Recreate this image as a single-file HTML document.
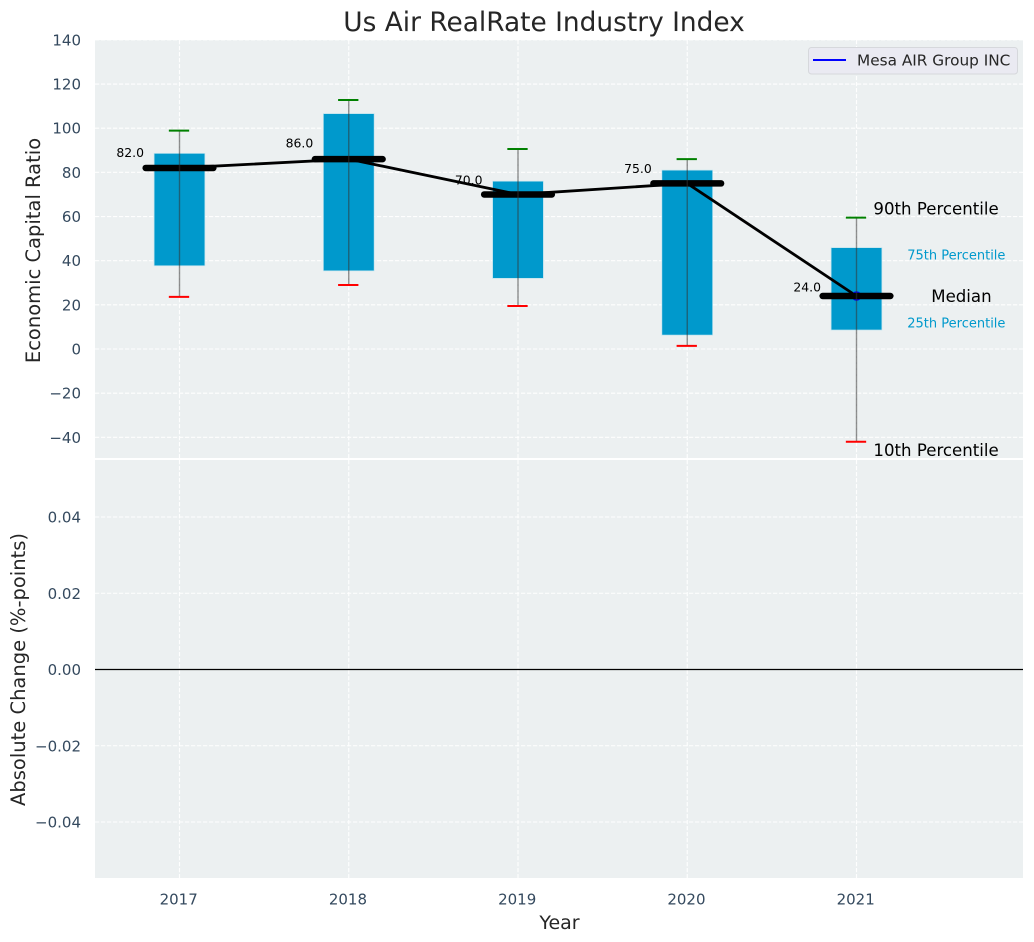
<!DOCTYPE html>
<html>
<head>
<meta charset="utf-8">
<title>Us Air RealRate Industry Index</title>
<style>
html,body{margin:0;padding:0;background:#fff;}
svg{display:block;font-family:"DejaVu Sans","Liberation Sans",sans-serif;}
</style>
</head>
<body>
<svg id="chart" xmlns="http://www.w3.org/2000/svg" width="1034" height="942" viewBox="0 0 1034 942"></svg>
<script>
const years = [2017, 2018, 2019, 2020, 2021];
const p10 = [23.6, 29, 19.5, 1.4, -42];
const p25 = [37.7, 35.4, 32, 6.3, 8.6];
const medians = [82, 86, 70, 75, 24];
const p75 = [88.6, 106.6, 76, 81, 45.9];
const p90 = [98.9, 112.8, 90.6, 86, 59.5];
const companyYears = [2021];
const companyValues = [24];
const topTicks = [140, 120, 100, 80, 60, 40, 20, 0, -20, -40];
const bottomTicks = [0.04, 0.02, 0, -0.02, -0.04];
const bottomTickLabels = ['0.04', '0.02', '0.00', '\u22120.02', '\u22120.04'];

const svg = document.getElementById('chart');
const NS = 'http://www.w3.org/2000/svg';
function mk(tag, attrs, parent, text) {
  const e = document.createElementNS(NS, tag);
  for (const k in attrs) e.setAttribute(k, attrs[k]);
  if (text !== undefined) e.textContent = text;
  (parent || svg).appendChild(e);
  return e;
}
const xS = v => 179.5 + (v - 2017) * 169.25;
const yT = v => 349 - v * 2.208;
const yB = v => 669.5 - v * 3812.5;
const fmt = v => String(v).replace('-', '\u2212');

const L = 95, R = 1023, T1 = 40, B1 = 458, T2 = 460, B2 = 878;
const tickColor = '#34495e', darkText = '#262626';

const bgTop = mk('rect', {x: L, y: T1, width: R - L, height: B1 - T1, fill: '#ecf0f1'});


const bgBottom = mk('rect', {x: L, y: T2, width: R - L, height: B2 - T2, fill: '#ecf0f1'});



const gridStyle = {stroke: '#ffffff', 'stroke-width': 1.1, 'stroke-dasharray': '4.2 1.8', opacity: 0.95};
years.forEach(function (yr) {
  const g1 = mk('line', Object.assign({x1: xS(yr), x2: xS(yr), y1: T1, y2: B1}, gridStyle));
  
  
  const g2 = mk('line', Object.assign({x1: xS(yr), x2: xS(yr), y1: T2, y2: B2}, gridStyle));
  
  
  const t = mk('text', {x: xS(yr) - 0.8, y: 904.5, 'text-anchor': 'middle', 'font-size': 15, fill: tickColor}, svg, String(yr));
  
  
});
topTicks.forEach(function (v) {
  const g = mk('line', Object.assign({x1: L, x2: R, y1: yT(v), y2: yT(v)}, gridStyle));
  
  
  const t = mk('text', {x: 81, y: yT(v) + 5.5, 'text-anchor': 'end', 'font-size': 15, fill: tickColor}, svg, fmt(v));
  
  
});
bottomTicks.forEach(function (v, i) {
  const g = mk('line', Object.assign({x1: L, x2: R, y1: yB(v), y2: yB(v)}, gridStyle));
  
  
  const t = mk('text', {x: 81, y: yB(v) + 5.5, 'text-anchor': 'end', 'font-size': 15, fill: tickColor}, svg, bottomTickLabels[i]);
  
  
});

const zeroLine = mk('line', {x1: L, x2: R, y1: yB(0), y2: yB(0), stroke: '#000', 'stroke-width': 1.3});



/* bars */
years.forEach(function (yr, i) {
  const b = mk('rect', {x: xS(yr - 0.15), y: yT(p75[i]), width: xS(yr + 0.15) - xS(yr - 0.15), height: yT(p25[i]) - yT(p75[i]), fill: '#0099cc', stroke: '#bfe3ee', 'stroke-width': 0.7});
  
  
});

/* value labels (under the median line) */
years.forEach(function (yr, i) {
  const t = mk('text', {x: xS(yr - 0.21), y: yT(medians[i] * 1.05) - 2, 'text-anchor': 'end', 'font-size': 12.4, fill: '#000'}, svg, medians[i].toFixed(1));
  
  
});

/* median connecting line */
const medianPts = years.map((yr, i) => xS(yr) + ',' + yT(medians[i])).join(' ');
const medLine = mk('polyline', {points: medianPts, fill: 'none', stroke: '#000', 'stroke-width': 2.8, 'stroke-linejoin': 'round'});



/* company marker */
companyYears.forEach(function (yr, i) {
  const d = mk('circle', {cx: xS(yr), cy: yT(companyValues[i]), r: 4.8, fill: '#0000ff'});
  
  
});

/* median ticks */
years.forEach(function (yr, i) {
  const m = mk('line', {x1: xS(yr - 0.2), x2: xS(yr + 0.2), y1: yT(medians[i]), y2: yT(medians[i]), stroke: '#000', 'stroke-width': 6.5, 'stroke-linecap': 'round'});
  
  
});

/* whiskers and caps */
years.forEach(function (yr, i) {
  const w = mk('line', {x1: xS(yr), x2: xS(yr), y1: yT(p90[i]), y2: yT(p10[i]), stroke: '#333', 'stroke-width': 1.4, 'stroke-opacity': 0.55});
  
  
  const c1 = mk('line', {x1: xS(yr - 0.06) - 0.5, x2: xS(yr + 0.06) - 0.5, y1: yT(p90[i]), y2: yT(p90[i]), stroke: '#008000', 'stroke-width': 2});
  
  
  const c2 = mk('line', {x1: xS(yr - 0.06) - 0.5, x2: xS(yr + 0.06) - 0.5, y1: yT(p10[i]), y2: yT(p10[i]), stroke: '#ff0000', 'stroke-width': 2});
  
  
});

/* percentile annotations, anchored to the last year's values */
const last = years.length - 1;
const lastYear = years[last];
const a90 = mk('text', {x: xS(lastYear + 0.1), y: yT(p90[last]) - 3, 'font-size': 16.6, fill: '#000'}, svg, '90th Percentile');


const a10 = mk('text', {x: xS(lastYear + 0.1), y: yT(p10[last]) + 14.5, 'font-size': 16.6, fill: '#000'}, svg, '10th Percentile');


const aMed = mk('text', {x: xS(lastYear + 0.62), y: yT(medians[last]) + 5.8, 'text-anchor': 'middle', 'font-size': 16.6, fill: '#000'}, svg, 'Median');


const a75 = mk('text', {x: xS(lastYear + 0.59), y: yT(p75[last]) + 12, 'text-anchor': 'middle', 'font-size': 13, fill: '#0099cc'}, svg, '75th Percentile');


const a25 = mk('text', {x: xS(lastYear + 0.59), y: yT(p25[last]) - 2.5, 'text-anchor': 'middle', 'font-size': 13, fill: '#0099cc'}, svg, '25th Percentile');



/* legend */
const lb = mk('rect', {x: 808.5, y: 47.5, width: 209, height: 26.5, rx: 3, fill: '#eaeaf2', stroke: '#d6d8dc', 'stroke-width': 1});


const ll = mk('line', {x1: 813, x2: 846, y1: 60, y2: 60, stroke: '#0000ff', 'stroke-width': 2});


const lt = mk('text', {x: 857, y: 65.5, 'font-size': 15.3, fill: darkText}, svg, 'Mesa AIR Group INC');



/* titles */
const title = mk('text', {x: 544, y: 31, 'text-anchor': 'middle', 'font-size': 26.4, fill: darkText}, svg, 'Us Air RealRate Industry Index');


const yt1 = mk('text', {x: 0, y: 0, transform: 'translate(40,250.5) rotate(-90)', 'text-anchor': 'middle', 'font-size': 19.5, fill: darkText}, svg, 'Economic Capital Ratio');


const yt2 = mk('text', {x: 0, y: 0, transform: 'translate(25,669.5) rotate(-90)', 'text-anchor': 'middle', 'font-size': 19.5, fill: darkText}, svg, 'Absolute Change (%-points)');


const xt = mk('text', {x: 559.5, y: 929, 'text-anchor': 'middle', 'font-size': 19, fill: darkText}, svg, 'Year');


</script>
</body>
</html>
